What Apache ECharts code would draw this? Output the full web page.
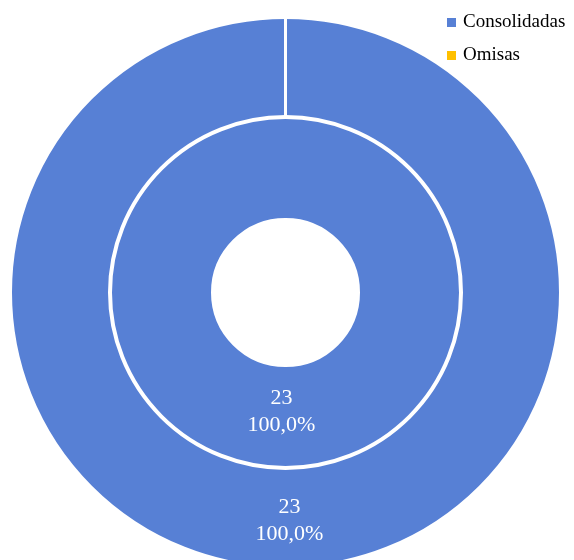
<!DOCTYPE html>
<html>
<head>
<meta charset="utf-8">
<script src="https://cdn.jsdelivr.net/npm/echarts@6/dist/echarts.min.js"></script>
<style>
html,body{margin:0;padding:0;background:#fff;}
#chart{width:574px;height:560px;}
</style>
</head>
<body>
<div id="chart"></div>
<script>
const categories = ['Consolidadas', 'Omisas'];
const innerValues = [23];
const outerValues = [23, 0];
const colors = ['#5780D5', '#FFC000'];

const FONT = "'Liberation Serif', 'Times New Roman', serif";

function fmt(p) {
  return p.value + '\n' + p.percent.toFixed(1).replace('.', ',') + '%';
}

function buildData(values) {
  return values.map((v, i) => ({
    name: categories[i],
    value: v,
    itemStyle: { color: colors[i] },
    label: { show: v !== 0 }
  }));
}

const chart = echarts.init(document.getElementById('chart'), null, { renderer: 'canvas' });
chart.setOption({
  animation: false,
  backgroundColor: '#ffffff',
  legend: {
    data: categories,
    orient: 'vertical',
    left: 447,
    top: 13,
    padding: 0,
    itemWidth: 9,
    itemHeight: 9,
    itemGap: 14,
    icon: 'rect',
    itemStyle: { borderWidth: 0 },
    textStyle: { fontFamily: FONT, fontSize: 19, color: '#000', padding: [0, 0, 0, 2] }
  },
  series: [
    {
      type: 'pie',
      center: [285.5, 292.5],
      radius: [73, 175],
      startAngle: 90,
      clockwise: true,
      silent: true,
      itemStyle: { borderColor: '#ffffff', borderWidth: 3 },
      label: {
        position: 'inside',
        formatter: fmt,
        color: '#ffffff',
        fontFamily: FONT,
        fontSize: 22,
        lineHeight: 27,
        offset: [-4, -8]
      },
      labelLine: { show: false },
      data: buildData(innerValues)
    },
    {
      type: 'pie',
      center: [285.5, 292.5],
      radius: [176, 275],
      startAngle: 90,
      clockwise: true,
      silent: true,
      itemStyle: { borderColor: '#ffffff', borderWidth: 3 },
      label: {
        position: 'inside',
        formatter: fmt,
        color: '#ffffff',
        fontFamily: FONT,
        fontSize: 22,
        lineHeight: 27,
        offset: [4, 0]
      },
      labelLine: { show: false },
      data: buildData(outerValues)
    }
  ]
});
</script>
</body>
</html>
